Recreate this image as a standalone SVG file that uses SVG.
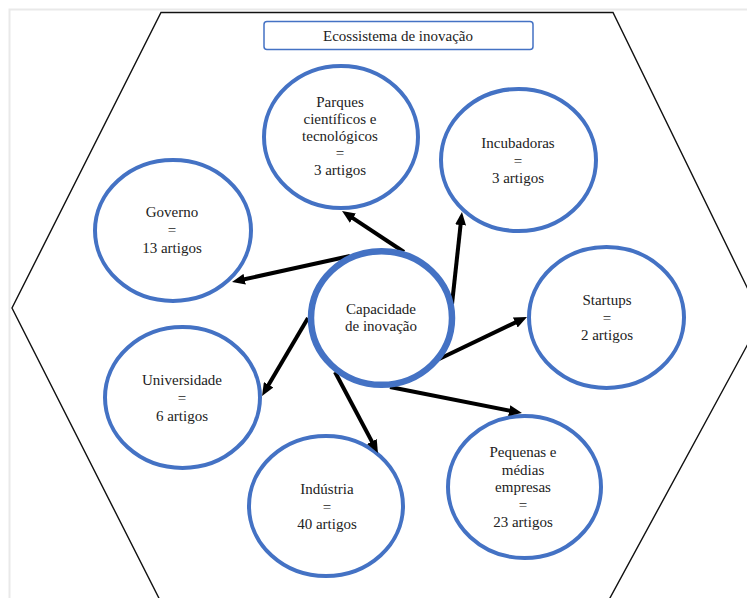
<svg xmlns="http://www.w3.org/2000/svg" width="747" height="598" viewBox="0 0 747 598">
  <style>
    .node { fill: #ffffff; stroke: #4472C4; stroke-width: 4; }
    .core { fill: #ffffff; stroke: #4472C4; stroke-width: 6.5; }
    .label { font-family: 'Liberation Serif', 'DejaVu Serif', serif; font-size: 15px; fill: #222222; text-anchor: middle; }
    .link { stroke: #000000; stroke-width: 4; fill: none; marker-end: url(#arrow); }
  </style>
  <defs>
    <marker id="arrow" markerUnits="userSpaceOnUse" markerWidth="13" markerHeight="11" refX="5" refY="5.5" orient="auto">
      <path d="M0,0 L13,5.5 L0,11 z" fill="#000000"/>
    </marker>
  </defs>

  <rect width="747" height="598" fill="#ffffff"/>
  <!-- page frame -->
  <path d="M9.5,598 V9.5 H747" fill="none" stroke="#e9e9e9" stroke-width="2"/>

  <!-- hexagon boundary -->
  <polygon id="hexagon" points="161,12.5 613,12.5 762,318 598,620 170,620 12,308" fill="none" stroke="#111111" stroke-width="1.4"/>

  <!-- title -->
  <g id="title">
    <rect x="264" y="21.5" width="269" height="28" rx="3" fill="#ffffff" stroke="#4472C4" stroke-width="1.5"/>
    <text class="label" x="398" y="41" font-family="Liberation Serif, serif">Ecossistema de inovação</text>
  </g>

  <g id="parques">
    <ellipse class="node" cx="341" cy="137" rx="77" ry="71"/>
    <text class="label"><tspan x="340" y="107">Parques</tspan><tspan x="340" y="124">científicos e</tspan><tspan x="340" y="141">tecnológicos</tspan><tspan x="340" y="158">=</tspan><tspan x="340" y="175">3 artigos</tspan></text>
  </g>

  <g id="incubadoras">
    <ellipse class="node" cx="518.5" cy="160" rx="77.5" ry="71"/>
    <text class="label"><tspan x="518" y="148">Incubadoras</tspan><tspan x="518" y="165.5">=</tspan><tspan x="518" y="183">3 artigos</tspan></text>
  </g>

  <g id="governo">
    <ellipse class="node" cx="173" cy="230.5" rx="78" ry="70.5"/>
    <text class="label"><tspan x="172" y="217">Governo</tspan><tspan x="172" y="235">=</tspan><tspan x="172" y="253">13 artigos</tspan></text>
  </g>

  <g id="startups">
    <ellipse class="node" cx="606.5" cy="317.5" rx="77.5" ry="70.5"/>
    <text class="label"><tspan x="607" y="305">Startups</tspan><tspan x="607" y="322.5">=</tspan><tspan x="607" y="340">2 artigos</tspan></text>
  </g>

  <g id="universidade">
    <ellipse class="node" cx="182.5" cy="397.5" rx="77.5" ry="70.5"/>
    <text class="label"><tspan x="182" y="385">Universidade</tspan><tspan x="182" y="403">=</tspan><tspan x="182" y="421">6 artigos</tspan></text>
  </g>

  <g id="industria">
    <ellipse class="node" cx="326" cy="506" rx="77" ry="70"/>
    <text class="label"><tspan x="327" y="494">Indústria</tspan><tspan x="327" y="511.5">=</tspan><tspan x="327" y="529">40 artigos</tspan></text>
  </g>

  <g id="pme">
    <ellipse class="node" cx="524.5" cy="487" rx="76.5" ry="71"/>
    <text class="label"><tspan x="523" y="457">Pequenas e</tspan><tspan x="523" y="474.5">médias</tspan><tspan x="523" y="492">empresas</tspan><tspan x="523" y="509.5">=</tspan><tspan x="523" y="527">23 artigos</tspan></text>
  </g>

  <!-- connectors from the core node -->
  <g id="connectors">
    <line class="link" x1="404" y1="252" x2="348.7" y2="215.4"/>
    <line class="link" x1="452" y1="304" x2="461.1" y2="220"/>
    <line class="link" x1="350" y1="256" x2="239.8" y2="280.3"/>
    <line class="link" x1="437" y1="360" x2="519.8" y2="320.4"/>
    <line class="link" x1="308" y1="318" x2="266.1" y2="389.1"/>
    <line class="link" x1="335" y1="372" x2="374.2" y2="445.9"/>
    <line class="link" x1="390" y1="387" x2="514.1" y2="411.5"/>
  </g>

  <g id="capacidade">
    <ellipse class="core" cx="381.5" cy="318" rx="70.5" ry="66.8"/>
    <text class="label"><tspan x="381" y="314">Capacidade</tspan><tspan x="381" y="331">de inovação</tspan></text>
  </g>
</svg>
